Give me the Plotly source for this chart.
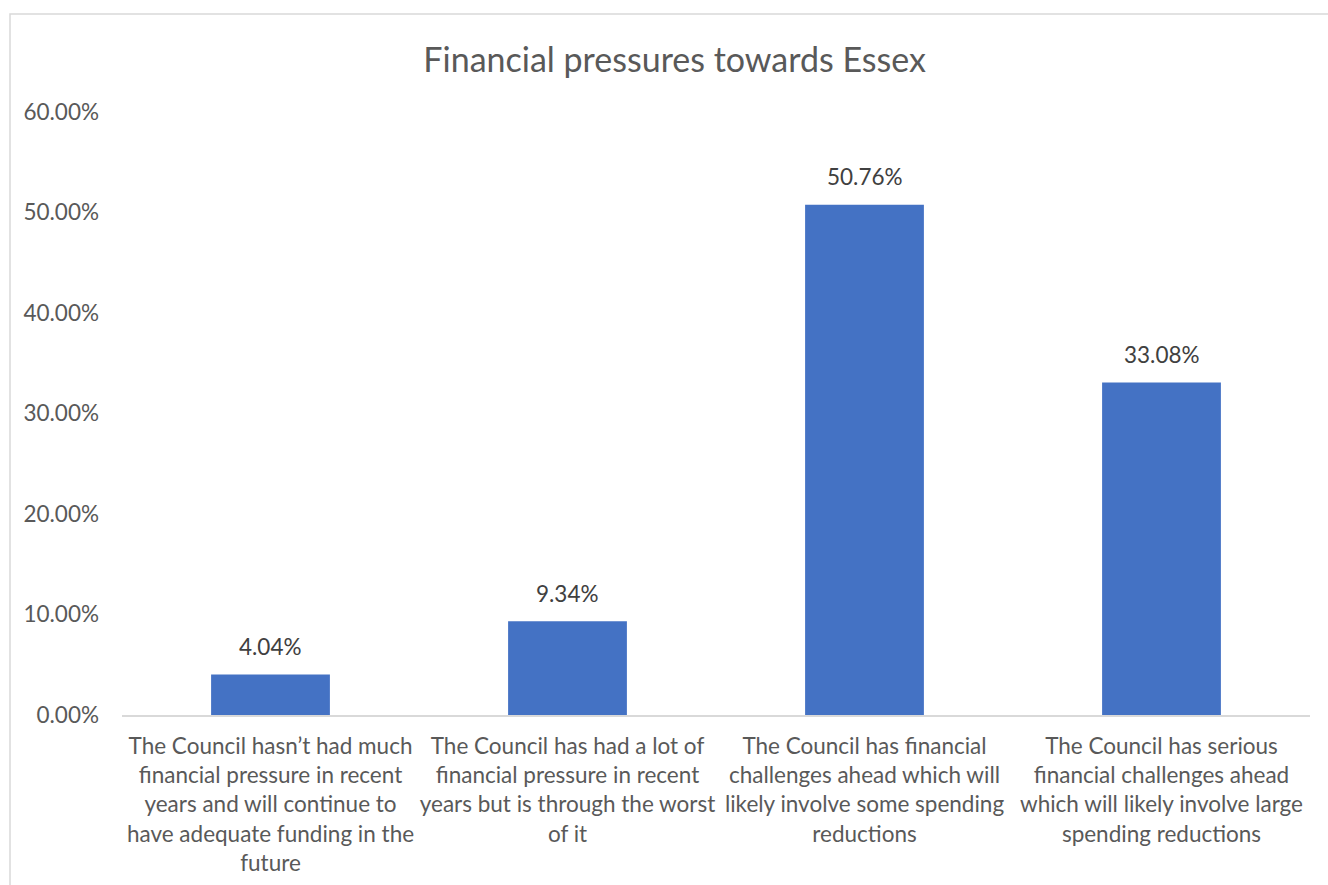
import plotly.graph_objects as go

categories = [
    "The Council hasn’t had much<br>financial pressure in recent<br>years and will continue to<br>have adequate funding in the<br>future",
    "The Council has had a lot of<br>financial pressure in recent<br>years but is through the worst<br>of it",
    "The Council has financial<br>challenges ahead which will<br>likely involve some spending<br>reductions",
    "The Council has serious<br>financial challenges ahead<br>which will likely involve large<br>spending reductions",
]
values = [0.0404, 0.0934, 0.5076, 0.3308]
labels = ["4.04%", "9.34%", "50.76%", "33.08%"]
yticks = [0, 0.1, 0.2, 0.3, 0.4, 0.5, 0.6]
yticktext = ["0.00%", "10.00%", "20.00%", "30.00%", "40.00%", "50.00%", "60.00%"]

FONT = "Lato"
GREY = "#595959"

fig = go.Figure(go.Bar(
    x=categories, y=values,
    marker=dict(color="#4472C4", line=dict(width=0)),
    width=0.4,
    cliponaxis=False,
))

for c, v, t in zip(categories, values, labels):
    fig.add_annotation(x=c, y=v, text=t, showarrow=False, yanchor="middle",
                       yshift=28, font=dict(family=FONT, size=22.5, color="#404040"))

fig.update_layout(
    width=1328, height=885,
    margin=dict(l=122, r=18, t=112, b=170),
    paper_bgcolor="white", plot_bgcolor="white",
    title=dict(text="Financial pressures towards Essex", x=0.508, xanchor="center",
               y=1 - 60/885, yanchor="middle",
               font=dict(family=FONT, size=34, color=GREY)),
    showlegend=False,
    font=dict(family=FONT, color=GREY),
    xaxis=dict(showline=True, linecolor="#D9D9D9", linewidth=1.5, ticks="",
               ticklabelstandoff=10, automargin=False,
               tickfont=dict(family=FONT, size=22.5, color=GREY), showgrid=False),
    yaxis=dict(range=[0, 0.6], tickvals=yticks, ticktext=yticktext, showgrid=False,
               zeroline=False, showline=False, ticks="", ticklabelstandoff=22,
               automargin=False,
               tickfont=dict(family=FONT, size=22.5, color=GREY)),
    shapes=[dict(type="rect", xref="paper", yref="paper",
                 x0=(10 - 122) / 1188, x1=1.05, y0=-0.4, y1=1 + (112 - 14) / 603,
                 line=dict(color="#D9D9D9", width=1.5), fillcolor="rgba(0,0,0,0)",
                 layer="below")],
)

fig.write_html("out.html")
